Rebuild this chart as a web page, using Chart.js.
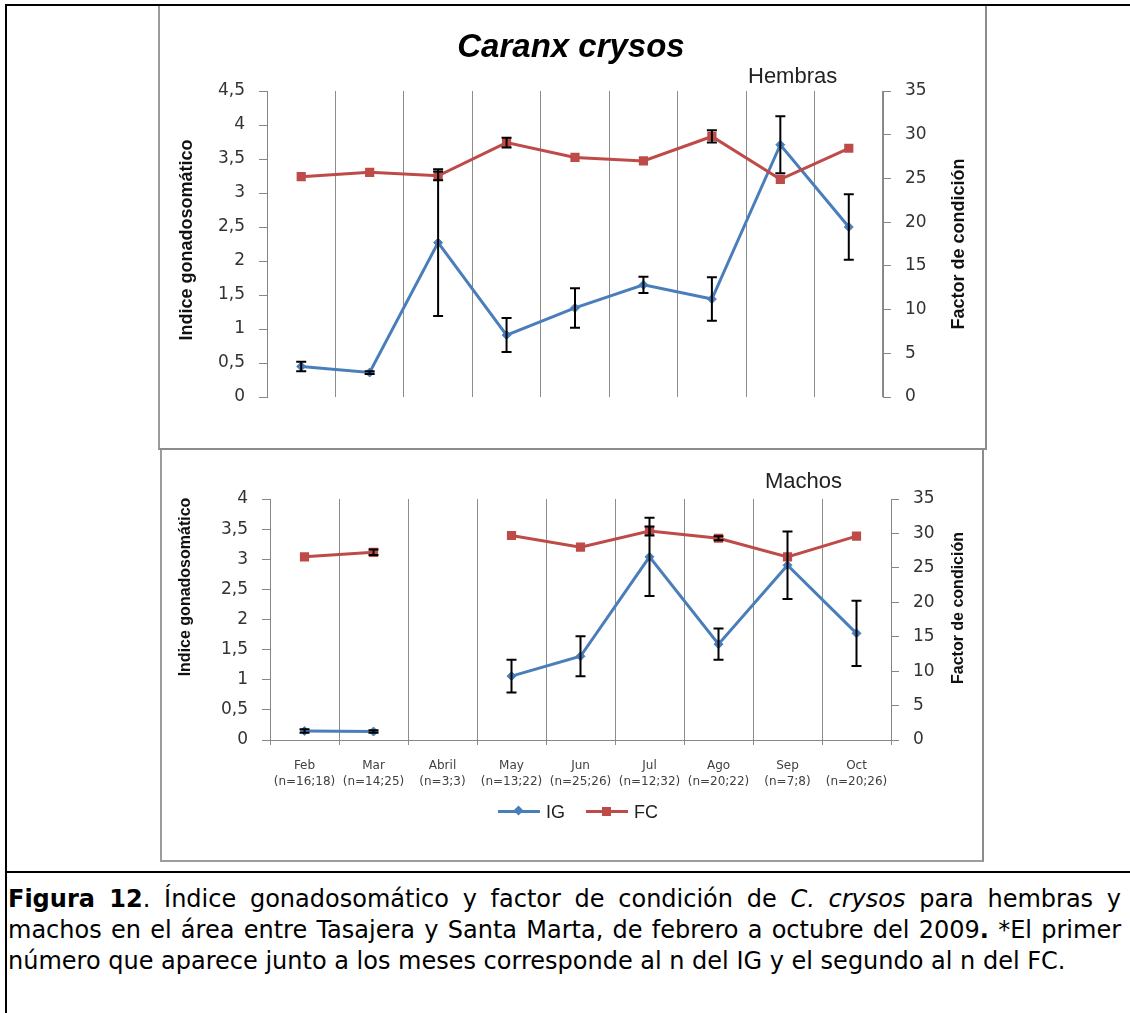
<!DOCTYPE html>
<html>
<head>
<meta charset="utf-8">
<script src="https://cdn.jsdelivr.net/npm/chart.js@4.4.0/dist/chart.umd.min.js"></script>
<style>
body { margin: 0; background: #fff; }
#page { position: relative; width: 1130px; height: 1013px; overflow: hidden; font-family: 'Liberation Sans', Arial, sans-serif; color: #222; }
.line { position: absolute; background: #000; }
.box { position: absolute; box-sizing: border-box; }
#box1 { left: 158px; top: 6px; width: 829px; height: 444px; border-left: 2px solid #9c9c9c; border-right: 2px solid #8c8c8c; border-bottom: 2px solid #8c8c8c; }
#box2 { left: 160px; top: 450px; width: 824px; height: 412px; border-left: 2px solid #9c9c9c; border-right: 2px solid #8c8c8c; border-bottom: 2px solid #9c9c9c; }
canvas { position: absolute; }
.txt { position: absolute; white-space: nowrap; }
.vtitle { position: absolute; white-space: nowrap; font-weight: bold; color: #111; transform: translate(-50%, -50%) rotate(-90deg); }
#legend { position: absolute; left: 498px; top: 800px; height: 24px; font-size: 18px; line-height: 24px; color: #222; }
.item { display: inline-block; position: relative; padding-left: 48px; margin-right: 16px; }
.sym { position: absolute; left: 0; top: 10px; width: 42px; height: 3px; }
.mark { position: absolute; }
#caption { position: absolute; left: 8px; top: 884px; width: 1113px; font-family: 'DejaVu Sans', Verdana, sans-serif; font-size: 24px; line-height: 31px; color: #000; }
#caption div { text-align: justify; text-align-last: justify; white-space: nowrap; }
#caption div.last { text-align-last: left; }
</style>
</head>
<body>
<div id="page">
  <div class="line" style="left:5px;top:4px;width:1125px;height:2px;"></div>
  <div class="line" style="left:5px;top:4px;width:2px;height:1009px;"></div>
  <div class="line" style="left:5px;top:871px;width:1125px;height:2px;"></div>

  <div class="box" id="box1"></div>
  <div class="box" id="box2"></div>

  <canvas id="hembras" width="825" height="442" style="left:160px;top:6px;"></canvas>
  <canvas id="machos" width="820" height="410" style="left:162px;top:450px;"></canvas>

  <div class="txt" style="left:371px;top:27px;width:400px;text-align:center;font-size:33px;line-height:38px;font-weight:bold;font-style:italic;color:#000;">Caranx crysos</div>
  <div class="txt" style="left:748px;top:63px;font-size:22px;line-height:26px;">Hembras</div>
  <div class="txt" style="left:765px;top:468px;font-size:22px;line-height:26px;">Machos</div>

  <div class="vtitle" style="left:186px;top:240px;font-size:18px;">Indice gonadosomático</div>
  <div class="vtitle" style="left:958px;top:244px;font-size:18px;">Factor de condición</div>
  <div class="vtitle" style="left:185px;top:587px;font-size:16px;">Indice gonadosomático</div>
  <div class="vtitle" style="left:958px;top:608px;font-size:16px;">Factor de condición</div>

  <div id="legend">
    <span class="item"><span class="sym" style="background:#4a7ebb;"></span><span class="mark" style="left:17px;top:7px;width:7px;height:7px;background:#4a7ebb;transform:rotate(45deg);"></span>IG</span>
    <span class="item"><span class="sym" style="background:#be4b48;"></span><span class="mark" style="left:16px;top:7px;width:9px;height:9px;background:#be4b48;"></span>FC</span>
  </div>

  <div id="caption">
    <div><b>Figura 12</b>. Índice gonadosomático y factor de condición de <i>C. crysos</i> para hembras y</div>
    <div>machos en el área entre Tasajera y Santa Marta, de febrero a octubre del 2009<b>.</b> *El primer</div>
    <div class="last">número que aparece junto a los meses corresponde al n del IG y el segundo al n del FC.</div>
  </div>
</div>

<script>
// months and sample sizes (n IG ; n FC)
var months = ['Feb', 'Mar', 'Abril', 'May', 'Jun', 'Jul', 'Ago', 'Sep', 'Oct'];
var sampleSizes = ['(n=16;18)', '(n=14;25)', '(n=3;3)', '(n=13;22)', '(n=25;26)', '(n=12;32)', '(n=20;22)', '(n=7;8)', '(n=20;26)'];

// hembras
var igHembras = [0.45, 0.36, 2.27, 0.91, 1.31, 1.65, 1.44, 3.71, 2.50];
var igHembrasErr = [0.07, 0.02, 1.08, 0.25, 0.29, 0.12, 0.32, 0.42, 0.48];
var fcHembras = [25.2, 25.7, 25.3, 29.1, 27.4, 27.0, 29.8, 24.9, 28.45];
var fcHembrasErr = [0, 0, 0.5, 0.55, 0, 0, 0.7, 0, 0];

// machos (no data for Abril)
var igMachos = [0.15, 0.14, null, 1.06, 1.39, 3.04, 1.59, 2.90, 1.77];
var igMachosErr = [0.03, 0.02, null, 0.27, 0.33, 0.65, 0.26, 0.56, 0.54];
var fcMachos = [26.6, 27.25, null, 29.7, 28.0, 30.35, 29.3, 26.6, 29.6];
var fcMachosErr = [0, 0.4, null, 0, 0, 0.65, 0.3, 0, 0];

var igTicksHembras = { min: 0, max: 4.5, step: 0.5 };
var igTicksMachos = { min: 0, max: 4, step: 0.5 };
var fcTicks = { min: 0, max: 35, step: 5 };

var blue = '#4a7ebb';
var red = '#be4b48';
var axisGray = '#868686';
var gridGray = '#8c8c8c';

Chart.defaults.font.family = "'DejaVu Sans', Verdana, sans-serif";
Chart.defaults.color = '#333333';

// draws black error bars using the chart's own y scales
var errorBars = {
    id: 'errorBars',
    afterDatasetsDraw: function(chart, args, opts) {
        var ctx = chart.ctx;
        ctx.save();
        ctx.strokeStyle = '#000';
        ctx.lineWidth = 2;
        chart.data.datasets.forEach(function(ds, i) {
            var errs = opts.errors[i];
            var meta = chart.getDatasetMeta(i);
            var scale = chart.scales[ds.yAxisID];
            ds.data.forEach(function(v, j) {
                if (v === null || !errs[j]) return;
                var x = meta.data[j].x;
                var top = scale.getPixelForValue(v + errs[j]);
                var bot = scale.getPixelForValue(v - errs[j]);
                ctx.beginPath();
                ctx.moveTo(x, top);
                ctx.lineTo(x, bot);
                ctx.moveTo(x - 5, top);
                ctx.lineTo(x + 5, top);
                ctx.moveTo(x - 5, bot);
                ctx.lineTo(x + 5, bot);
                ctx.stroke();
            });
        });
        ctx.restore();
    }
};

function commaLabel(v) {
    return String(v).replace('.', ',');
}

function makeChart(id, cfg) {
    var ctx = document.getElementById(id).getContext('2d');
    return new Chart(ctx, {
        type: 'line',
        data: {
            labels: cfg.labels,
            datasets: [{
                label: 'IG',
                data: cfg.ig,
                yAxisID: 'yIG',
                borderColor: blue,
                backgroundColor: blue,
                borderWidth: 3,
                pointStyle: 'rectRot',
                pointRadius: 4.5,
                pointBorderWidth: 1,
                spanGaps: false,
                order: 2
            }, {
                label: 'FC',
                data: cfg.fc,
                yAxisID: 'yFC',
                borderColor: red,
                backgroundColor: red,
                borderWidth: 3,
                pointStyle: 'rect',
                pointRadius: 6.5,
                pointBorderWidth: 0,
                spanGaps: false,
                order: 1
            }]
        },
        options: {
            responsive: false,
            animation: false,
            layout: { padding: { top: cfg.padTop, left: 0, right: 0, bottom: 0 } },
            plugins: {
                legend: { display: false },
                tooltip: { enabled: false },
                errorBars: { errors: [cfg.igErr, cfg.fcErr] }
            },
            scales: {
                x: {
                    offset: true,
                    grid: { offset: true, color: gridGray, drawTicks: cfg.showX, tickLength: 5 },
                    border: { display: cfg.showX, color: axisGray },
                    ticks: { display: cfg.showX, autoSkip: false, maxRotation: 0, padding: 13, color: '#404040', font: { size: 12, lineHeight: 1.3 } },
                    afterFit: function(s) { s.height = cfg.xHeight; }
                },
                yIG: {
                    position: 'left',
                    min: cfg.igTicks.min,
                    max: cfg.igTicks.max,
                    ticks: { stepSize: cfg.igTicks.step, padding: 14, font: { size: 17 }, callback: commaLabel },
                    grid: { drawOnChartArea: false, tickLength: 8, color: axisGray },
                    border: { color: axisGray },
                    afterFit: function(s) { s.width = cfg.leftWidth; }
                },
                yFC: {
                    position: 'right',
                    min: fcTicks.min,
                    max: fcTicks.max,
                    ticks: { stepSize: fcTicks.step, padding: 14, font: { size: 17 } },
                    grid: { drawOnChartArea: false, tickLength: 8, color: axisGray },
                    border: { color: axisGray },
                    afterFit: function(s) { s.width = cfg.rightWidth; }
                }
            }
        },
        plugins: [errorBars]
    });
}

makeChart('hembras', {
    labels: months,
    ig: igHembras, igErr: igHembrasErr,
    fc: fcHembras, fcErr: fcHembrasErr,
    igTicks: igTicksHembras,
    showX: false,
    padTop: 85, xHeight: 51, leftWidth: 107, rightWidth: 102
});

var machosLabels = months.map(function(m, i) {
    return [m, sampleSizes[i]];
});

makeChart('machos', {
    labels: machosLabels,
    ig: igMachos, igErr: igMachosErr,
    fc: fcMachos, fcErr: fcMachosErr,
    igTicks: igTicksMachos,
    showX: true,
    padTop: 49, xHeight: 120, leftWidth: 108, rightWidth: 91
});
</script>
</body>
</html>
